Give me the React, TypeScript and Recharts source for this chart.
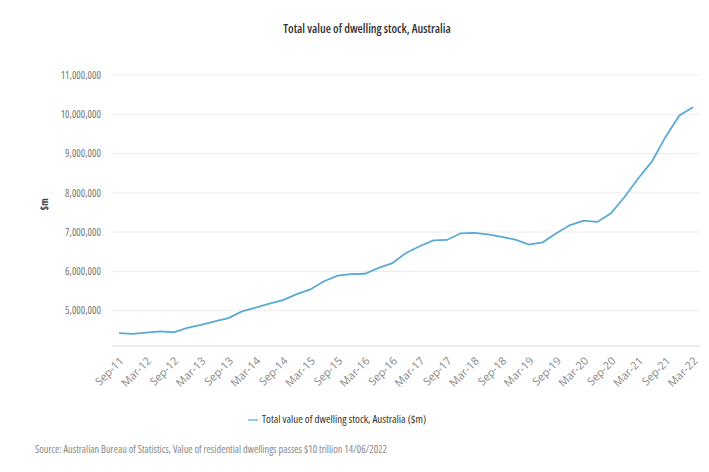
import { LineChart, Line, XAxis, YAxis, CartesianGrid, Legend } from 'recharts';

const quarters = [
  'Sep-11', 'Dec-11', 'Mar-12', 'Jun-12', 'Sep-12', 'Dec-12', 'Mar-13', 'Jun-13',
  'Sep-13', 'Dec-13', 'Mar-14', 'Jun-14', 'Sep-14', 'Dec-14', 'Mar-15', 'Jun-15',
  'Sep-15', 'Dec-15', 'Mar-16', 'Jun-16', 'Sep-16', 'Dec-16', 'Mar-17', 'Jun-17',
  'Sep-17', 'Dec-17', 'Mar-18', 'Jun-18', 'Sep-18', 'Dec-18', 'Mar-19', 'Jun-19',
  'Sep-19', 'Dec-19', 'Mar-20', 'Jun-20', 'Sep-20', 'Dec-20', 'Mar-21', 'Jun-21',
  'Sep-21', 'Dec-21', 'Mar-22',
];

// $m
const dwellingStock = [
  4430000, 4410000, 4440000, 4470000, 4450000, 4560000, 4640000, 4730000,
  4810000, 4980000, 5080000, 5180000, 5270000, 5420000, 5540000, 5750000,
  5890000, 5930000, 5940000, 6090000, 6210000, 6470000, 6640000, 6790000,
  6800000, 6970000, 6980000, 6940000, 6880000, 6810000, 6680000, 6740000,
  6970000, 7180000, 7290000, 7260000, 7480000, 7900000, 8370000, 8800000,
  9430000, 9970000, 10180000,
];

const yTicks = [5000000, 6000000, 7000000, 8000000, 9000000, 10000000, 11000000];

const seriesName = 'Total value of dwelling stock, Australia ($m)';

const data = quarters.map((q, i) => ({ quarter: q, value: dwellingStock[i] }));

const font = "'Open Sans', sans-serif";
const narrow = { fontFamily: font, fontStretch: 'condensed' as const };

export default function App() {
  return (
    <div style={{ position: 'absolute', left: 0, top: 0, width: 709, height: 472, background: '#fff', fontFamily: font }}>
      <div style={{ position: 'absolute', top: 20, left: 0, width: 734, textAlign: 'center', fontSize: 12, fontWeight: 600, color: '#333', ...narrow }}>
        Total value of dwelling stock, Australia
      </div>
      <LineChart width={709} height={472} data={data} margin={{ top: 75, right: 9, bottom: 76, left: 0 }}>
        <CartesianGrid vertical={false} stroke="#ececec" />
        <XAxis
          dataKey="quarter"
          interval={1}
          angle={-45}
          textAnchor="end"
          height={50}
          padding={{ left: 7, right: 7 }}
          tickLine={false}
          axisLine={{ stroke: '#e2e2e2' }}
          tick={{ fontSize: 11, fill: '#888', fontFamily: font }}
          tickMargin={4}
        />
        <YAxis
          type="number"
          domain={[4100000, 11000000]}
          ticks={yTicks}
          width={112}
          tickSize={0}
          tickMargin={11}
          axisLine={false}
          tickLine={false}
          tickFormatter={(v: number) => v.toLocaleString('en-US')}
          tick={{ fontSize: 10.5, fill: '#777', fontFamily: font, style: { fontStretch: '80%' } }}
          label={{ value: '$m', angle: -90, position: 'insideLeft', offset: 44, style: { fontSize: 10, fontWeight: 'bold', fill: '#444', ...narrow } }}
        />
        <Legend
          verticalAlign="middle"
          align="center"
          layout="horizontal"
          iconType="plainline"
          iconSize={10}
          wrapperStyle={{ top: 411, left: 0, width: 684, fontSize: 11, ...narrow }}
          formatter={(v: string) => <span style={{ color: '#333' }}>{v}</span>}
        />
        <Line
          name={seriesName}
          type="linear"
          dataKey="value"
          stroke="#5aaad4"
          strokeWidth={1.8}
          dot={false}
          isAnimationActive={false}
        />
      </LineChart>
      <div style={{ position: 'absolute', top: 442, left: 35, fontSize: 10.3, color: '#888', ...narrow }}>
        Source: Australian Bureau of Statistics, Value of residential dwellings passes $10 trillion 14/06/2022
      </div>
    </div>
  );
}
